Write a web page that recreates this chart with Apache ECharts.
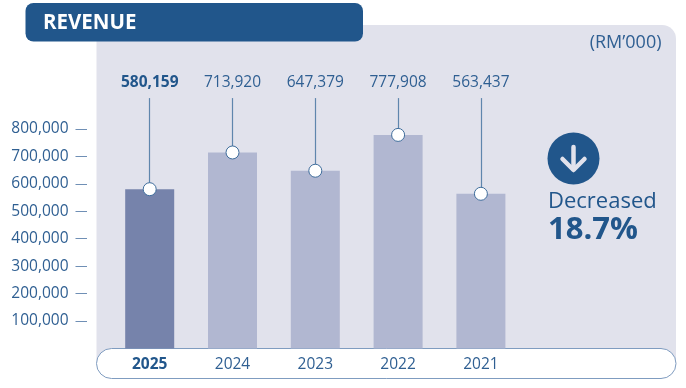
<!DOCTYPE html>
<html>
<head>
<meta charset="utf-8">
<title>Revenue</title>
<script src="https://cdn.jsdelivr.net/npm/echarts@6/dist/echarts.min.js"></script>
<style>
	html, body { margin: 0; padding: 0; background: #fff; }
	#chart { width: 686px; height: 388px; }
</style>
</head>
<body>
<div id="chart"></div>
<script>
var categories = ['2025', '2024', '2023', '2022', '2021'];
var revenue = [580159, 713920, 647379, 777908, 563437];
var tickValues = [100000, 200000, 300000, 400000, 500000, 600000, 700000, 800000];
var labelLevel = [912000, 912000, 912000, 912000, 912000];

var blue = '#21568b';
var textBlue = '#2f5f92';
var font = '"Open Sans"';

function fmt(v) {
	return String(v).replace(/\B(?=(\d{3})+$)/g, ',');
}

var myChart = echarts.init(document.getElementById('chart'), null, { renderer: 'canvas' });

var option = {
	animation: false,
	backgroundColor: '#fff',
	textStyle: { fontFamily: font },
	grid: { left: 108.3, width: 414, top: 19, height: 329.5 },
	xAxis: {
		type: 'category',
		data: categories.map(function(c, i) {
			// 第一个年份加粗
			return i == 0 ? { value: c, textStyle: { fontWeight: 700, color: blue } } : c;
		}),
		axisLine: { show: false },
		axisTick: { show: false },
		axisLabel: { color: textBlue, fontSize: 15.5, fontFamily: font, margin: 8 }
	},
	yAxis: {
		type: 'value',
		min: 0,
		max: 1200000,
		interval: 100000,
		offset: 21.3,
		splitLine: { show: false },
		axisLine: { show: false },
		axisTick: {
			show: true,
			length: 11.5,
			customValues: tickValues,
			lineStyle: { color: '#6f8fb5', width: 1 }
		},
		axisLabel: {
			color: textBlue,
			fontSize: 15.5,
			fontFamily: font,
			margin: 18.5,
			padding: [4, 0, 0, 0],
			customValues: tickValues,
			formatter: function(v) { return fmt(v); }
		}
	},
	series: [{
		type: 'bar',
		barWidth: 49,
		z: 2,
		data: revenue.map(function(v, i) {
			return { value: v, itemStyle: { color: i == 0 ? '#7683ab' : '#b1b7d1' } };
		})
	}, {
		// 引线和数值标签
		type: 'scatter',
		symbolSize: 0,
		z: 3,
		silent: true,
		itemStyle: { opacity: 1 },
		data: labelLevel.map(function(v, i) {
			return {
				value: [i, v],
				label: {
					show: true,
					position: 'top',
					distance: 7.5,
					formatter: fmt(revenue[i]),
					fontFamily: font,
					fontSize: 15.5,
					fontWeight: i == 0 ? 700 : 400,
					color: i == 0 ? blue : textBlue
				}
			};
		}),
		markLine: {
			silent: true,
			symbol: 'none',
			label: { show: false },
			lineStyle: { color: '#5f86ad', width: 1.2, type: 'solid', opacity: 1 },
			data: revenue.map(function(v, i) {
				return [{ coord: [i, v] }, { coord: [i, labelLevel[i]] }];
			})
		}
	}, {
		type: 'scatter',
		symbol: 'circle',
		symbolSize: 13,
		z: 5,
		silent: true,
		itemStyle: { color: '#fff', borderColor: '#3f6d9c', borderWidth: 1, opacity: 1 },
		data: revenue.map(function(v, i) {
			return [i, v];
		})
	}],
	graphic: [{
		type: 'rect',
		z: -10,
		shape: { x: 96.5, y: 25, width: 579.5, height: 338, r: [0, 14, 0, 0] },
		style: { fill: '#e1e2ec' }
	}, {
		type: 'rect',
		z: -9,
		shape: { x: 25.5, y: 3, width: 337.5, height: 38.5, r: 8 },
		style: { fill: blue }
	}, {
		type: 'text',
		z: 10,
		x: 43,
		y: 23.5,
		style: { text: 'REVENUE', fill: '#fff', font: '700 20.5px ' + font, textVerticalAlign: 'middle' }
	}, {
		type: 'text',
		z: 10,
		x: 661.5,
		y: 42.5,
		style: { text: '(RM\u2019000)', fill: textBlue, font: '18px ' + font, textAlign: 'right', textVerticalAlign: 'middle' }
	}, {
		// x轴的白色胶囊底
		type: 'rect',
		z: -8,
		shape: { x: 96.5, y: 348.5, width: 579.5, height: 30, r: 15 },
		style: { fill: '#fff', stroke: '#7f9cc0', lineWidth: 1 }
	}, {
		type: 'circle',
		z: 10,
		shape: { cx: 573.5, cy: 158.5, r: 26 },
		style: { fill: blue }
	}, {
		type: 'line',
		z: 11,
		shape: { x1: 573.5, y1: 147, x2: 573.5, y2: 169 },
		style: { stroke: '#e1e2ec', lineWidth: 4.5, lineCap: 'round' }
	}, {
		type: 'polyline',
		z: 11,
		shape: { points: [[562.5, 159], [573.5, 170], [584.5, 159]] },
		style: { stroke: '#e1e2ec', fill: 'none', lineWidth: 4.5, lineCap: 'round', lineJoin: 'round' }
	}, {
		type: 'text',
		z: 10,
		x: 548,
		y: 202,
		style: { text: 'Decreased', fill: blue, font: '22px ' + font, textVerticalAlign: 'middle' }
	}, {
		type: 'text',
		z: 10,
		x: 548,
		y: 230,
		style: { text: '18.7%', fill: blue, font: '700 31px ' + font, textVerticalAlign: 'middle' }
	}]
};
myChart.setOption(option);
</script>
</body>
</html>
